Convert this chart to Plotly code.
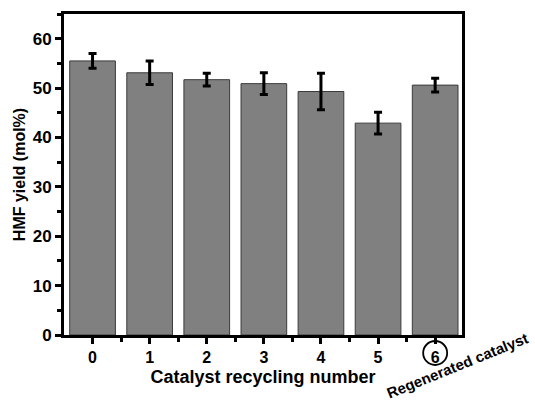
import plotly.graph_objects as go

# Recycling runs (run 6 uses the regenerated catalyst)
cycles = [0, 1, 2, 3, 4, 5, 6]
tick_labels = ["0", "1", "2", "3", "4", "5", "6"]
hmf_yield = [55.5, 53.1, 51.7, 50.9, 49.3, 42.9, 50.6]
yield_err = [1.5, 2.4, 1.3, 2.2, 3.7, 2.2, 1.4]

FONT = "Liberation Sans, Arial, sans-serif"

fig = go.Figure(
    go.Bar(
        x=cycles,
        y=hmf_yield,
        width=0.8,
        marker=dict(color="#808080", line=dict(color="#3a3a3a", width=1)),
        error_y=dict(type="data", array=yield_err, visible=True,
                     color="black", thickness=3, width=4),
    )
)

fig.update_layout(
    width=535, height=404,
    margin=dict(l=64, r=73, t=14, b=69),
    paper_bgcolor="white", plot_bgcolor="white",
    showlegend=False,
    font=dict(family=FONT, color="black"),
)

fig.update_xaxes(
    range=[-0.5, 6.47],
    tickmode="array", tickvals=cycles, ticktext=tick_labels,
    ticks="outside", ticklen=6, tickwidth=3, tickcolor="black",
    minor=dict(tickmode="array", tickvals=[c + 0.5 for c in cycles[:-1]],
               ticks="outside", ticklen=4, tickwidth=3, tickcolor="black"),
    tickfont=dict(size=16, family=FONT, weight="bold"),
    showline=True, linewidth=3, linecolor="black", mirror=True,
    showgrid=False, zeroline=False,
    title=dict(text="Catalyst recycling number",
               font=dict(size=18, family=FONT, weight="bold"), standoff=6),
)

fig.update_yaxes(
    range=[0, 65],
    tickmode="linear", tick0=0, dtick=10,
    ticks="outside", ticklen=6, tickwidth=3, tickcolor="black",
    minor=dict(tickmode="linear", tick0=5, dtick=10,
               ticks="outside", ticklen=4, tickwidth=3, tickcolor="black"),
    tickfont=dict(size=17, family=FONT, weight="bold"),
    showline=True, linewidth=3, linecolor="black", mirror=True,
    showgrid=False, zeroline=False,
    title=dict(text="HMF yield (mol%)",
               font=dict(size=16, family=FONT, weight="bold"), standoff=4),
)

# Circle around the regenerated-catalyst tick label
fig.add_shape(
    type="circle", xref="x", yref="paper",
    xsizemode="pixel", ysizemode="pixel",
    xanchor=6, yanchor=-0.056,
    x0=-12, x1=12, y0=-12, y1=12,
    line=dict(color="black", width=1.8),
)

fig.add_annotation(
    text="Regenerated catalyst",
    xref="paper", yref="paper", x=0.988, y=-0.096,
    xanchor="center", yanchor="middle",
    showarrow=False, textangle=-22,
    font=dict(size=15, family=FONT, weight="bold", color="black"),
)

fig.write_html("out.html")
